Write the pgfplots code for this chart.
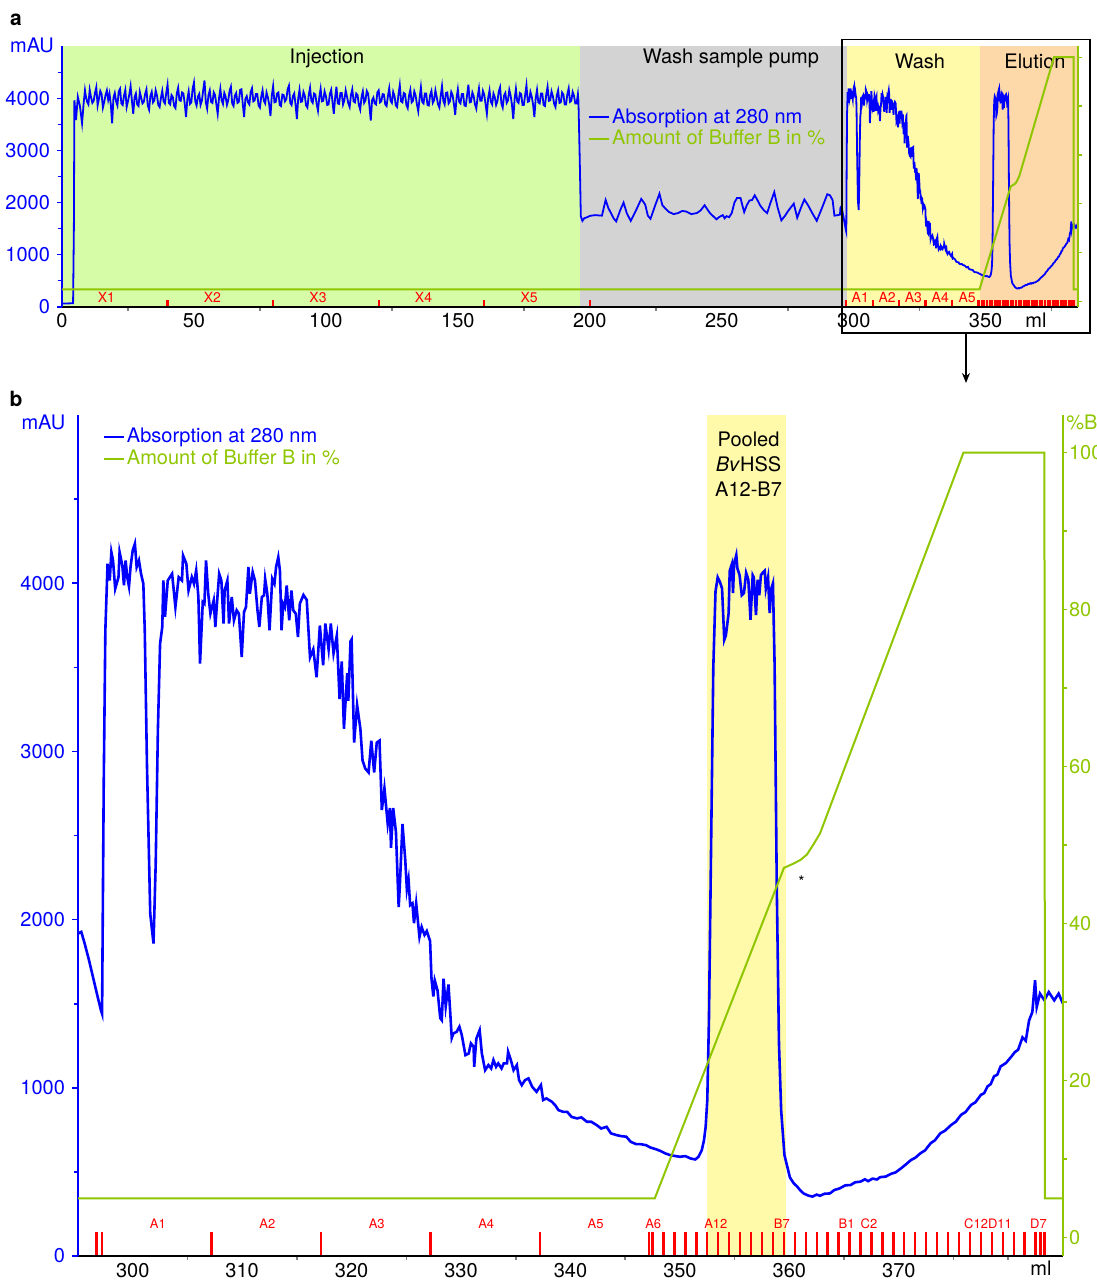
\documentclass[border=0pt]{standalone}
\usepackage{pgfplots}
\pgfplotsset{compat=1.18}
\usepackage{pgfplotstable}
\usepackage{fontspec}
\setmainfont{TeX Gyre Heros}
\usetikzlibrary{arrows.meta}
\definecolor{ablue}{RGB}{0,0,255}
\definecolor{bgreen}{RGB}{143,198,0}
\definecolor{injg}{RGB}{215,252,168}
\definecolor{wgray}{RGB}{211,211,211}
\definecolor{wyel}{RGB}{255,249,170}
\definecolor{eor}{RGB}{253,216,168}
\definecolor{fred}{RGB}{255,0,0}
\pgfkeys{/pgf/number format/.cd,1000 sep={},assume math mode=true}
\newcommand{\tf}{\fontsize{10}{12}\selectfont}

% Panel b absorption trace (ml, mAU)
\pgfplotstableread{
x y
295.0 1917
295.3 1927
295.6 1860
296.0 1760
296.4 1650
296.8 1540
297.1 1460
297.2 1440
297.35 2800
297.5 3720
297.7 4116
297.9 4016
298.05 4185
298.2 4135
298.4 3967
298.7 4036
298.8 4185
299.05 4106
299.2 3987
299.35 4135
299.5 4036
299.66 3980
299.8 4096
300.0 4195
300.2 4235
300.36 4096
300.57 4135
300.76 4056
300.97 3997
301.1 3720
301.3 2927
301.6 2036
301.73 1957
301.9 1858
302.1 2333
302.3 3126
302.5 3641
302.7 3740
302.8 4016
302.95 3800
303.2 4016
303.6 4056
303.9 3858
304.2 4036
304.5 4016
304.6 4165
304.9 4116
305.1 3957
305.4 4036
305.6 3997
305.8 4076
306.0 3918
306.15 3522
306.4 3888
306.55 3878
306.7 4135
306.9 3937
307.1 3819
307.4 3898
307.55 3740
307.74 3918
307.9 4056
308.1 4016
308.3 3760
308.4 3957
308.65 4016
308.8 3760
309.05 3918
309.25 3779
309.5 3839
309.7 3819
309.96 3561
310.17 3829
310.35 3858
310.57 4096
310.7 3937
310.96 4066
311.17 4016
311.4 3839
311.57 3740
311.8 3918
312.0 3928
312.1 4026
312.3 3937
312.5 3720
312.75 4026
312.95 3997
313.1 4096
313.3 4155
313.45 4076
313.6 3720
313.75 3878
313.9 3858
314.07 3987
314.3 3779
314.5 3957
314.67 3839
314.9 3819
315.1 3680
315.27 3878
315.6 3930
315.9 3901
316.2 3559
316.5 3607
316.8 3441
317.1 3748
317.4 3512
317.6 3760
317.9 3607
318.1 3760
318.35 3583
318.65 3689
318.9 3311
319.1 3535
319.3 3135
319.6 3465
319.7 3300
319.9 3654
320.0 3665
320.23 3052
320.5 3276
320.8 3135
321.0 2946
321.24 2899
321.55 2875
321.8 3064
322.06 2875
322.3 3052
322.55 3064
322.76 2651
323.0 2781
323.3 2569
323.5 2663
323.6 2427
323.8 2663
324.05 2522
324.3 2074
324.4 2192
324.65 2569
324.9 2357
325.05 2180
325.2 2239
325.35 2086
325.56 2097
325.7 1979
325.9 2097
326.2 1897
326.4 1956
326.66 1909
326.87 1932
327.17 1873
327.3 1649
327.47 1543
327.6 1638
327.85 1579
328.1 1414
328.24 1402
328.4 1649
328.6 1484
328.85 1614
329.0 1461
329.15 1296
329.3 1323
329.6 1333
329.85 1363
330.07 1313
330.4 1194
330.7 1204
330.9 1264
331.15 1244
331.2 1125
331.4 1293
331.7 1343
331.9 1204
332.2 1105
332.5 1135
332.75 1115
332.96 1165
333.2 1125
333.4 1145
333.7 1115
333.9 1145
334.2 1145
334.3 1214
334.55 1165
334.8 1105
335.1 1135
335.3 1046
335.55 1016
335.85 1046
336.16 1056
336.5 1006
336.9 976
337.3 1016
337.5 927
337.8 937
338.3 917
338.6 897
338.9 867
339.35 857
339.7 857
340.1 827
340.6 818
341.0 824
341.5 798
341.9 798
342.4 778
342.8 758
343.3 768
343.7 729
344.2 719
344.6 713
345.1 709
345.5 679
346.0 665
346.4 665
346.9 659
347.3 645
347.8 635
348.2 625
348.7 609
349.1 600
349.6 594
350.0 590
350.5 594
350.96 580
351.4 574
351.7 590
352.0 630
352.2 689
352.35 768
352.5 927
352.65 1400
352.85 2450
353.05 3500
353.25 3950
353.45 4035
353.65 4008
353.85 3968
354.05 3663
354.2 3690
354.45 3822
354.55 4074
354.75 4114
354.85 3942
354.95 4114
355.15 4167
355.25 4088
355.45 4048
355.65 3929
355.85 3942
356.05 4061
356.25 4021
356.45 3783
356.65 4048
356.75 4035
356.95 3810
357.1 4021
357.25 3929
357.4 4048
357.55 4061
357.75 4074
357.85 3968
358.05 4035
358.2 3822
358.35 3968
358.5 4000
358.65 3517
358.85 2191
359.05 1263
359.25 865
359.55 600
360.05 467
360.4 432
360.7 414
361.0 390
361.3 372
361.7 360
362.1 353
362.5 365
362.8 358
363.2 370
363.7 372
364.1 392
364.6 402
365.1 420
365.6 422
366.0 438
366.5 442
366.9 456
367.2 445
367.6 460
368.0 455
368.3 469
368.8 472
369.3 489
369.7 497
370.2 521
370.6 542
371.1 570
371.5 584
372.0 612
372.4 628
372.9 670
373.3 688
373.8 730
374.2 744
374.8 780
375.2 798
375.7 840
376.1 856
376.6 898
377.0 914
377.5 958
377.8 968
378.1 1008
378.4 1022
378.7 1068
379.0 1078
379.3 1127
379.8 1148
380.3 1187
380.6 1212
380.9 1226
381.3 1300
381.6 1280
381.9 1400
382.2 1450
382.45 1640
382.6 1480
382.9 1560
383.3 1521
383.7 1569
384.2 1520
384.6 1560
385.0 1500
}\bdata

% Amount of buffer B (ml, %)
\pgfplotstableread{
x y
0 5
347.7 5
359.5 47.1
360.3 47.6
361.0 48.1
361.6 48.8
362.2 50.1
362.8 51.5
375.9 100
383.3 100
383.35 5
385 5
}\pbdata

\pgfplotsset{
  chrom/.style={scale only axis, axis on top, tick align=outside,
    tick label style={font=\tf},
    xticklabel style={yshift=3pt},
    major tick length=2.5pt, minor tick length=2pt,
    major x tick style={draw=none},
    minor x tick style={gray, line width=0.8pt},
    legend cell align=left,
    legend image code/.code={\draw[##1, line width=1.2pt] (0pt,0pt) -- (10pt,0pt);},
  },
}

\begin{document}
\begin{tikzpicture}
\path[use as bounding box] (0pt,0pt) rectangle (548.5pt,641pt);

% ---------------- panel a ----------------
\begin{axis}[chrom, at={(31pt,487.5pt)}, anchor=south west, width=508pt, height=130.5pt,
  xmin=0, xmax=385, ymin=0, ymax=5000,
  axis x line*=bottom, axis y line*=left,
  x axis line style={black, line width=1.2pt},
  y axis line style={ablue, line width=1.2pt},
  xtick={0,50,...,350}, minor xtick={25,75,...,375},
  ytick={0,1000,...,4000}, minor ytick={500,1500,...,4500},
  yticklabel style={ablue}, ytick style={ablue, line width=0.6pt},
  legend style={draw=none, fill=none, at={(0.517,0.77)}, anchor=north west,
    inner sep=0pt, row sep=0pt, font=\tf, nodes={inner sep=1pt}},
]
\addplot[draw=none, fill=injg, forget plot] coordinates {(0,5000) (196.4,5000)} \closedcycle;
\addplot[draw=none, fill=wgray, forget plot] coordinates {(196.4,5000) (297.6,5000)} \closedcycle;
\addplot[draw=none, fill=wyel, forget plot] coordinates {(297.6,5000) (348,5000)} \closedcycle;
\addplot[draw=none, fill=eor, forget plot] coordinates {(348,5000) (385,5000)} \closedcycle;
\addplot[ablue, line width=0.9pt] coordinates {
(0,65)(2,68)(4.2,72)(4.5,1500)(4.7,3960)(5.3,3580)(6.0,4026)(6.8,3850)(7.6,3518)(8.2,3900)(8.7,4153)
(9,4050)(9.5,3930)(10,3880)(10.5,4160)(11,4020)(11.5,3910)(12,3950)(12.5,4100)(13,4210)(13.5,3860)
(14,3990)(14.5,4140)(15,4080)(15.5,3820)(16,3930)(16.5,4060)(17,4150)(17.5,3970)(18,4090)(18.5,3880)
(19,3520)(19.5,4010)(20,4100)(20.5,3940)(21,3860)(21.5,4130)(22,4180)(22.5,3900)(23,3870)(23.5,4050)
(24,4160)(24.5,3830)(25,3940)(25.5,4070)(26,4230)(26.5,3950)(27,3700)(27.5,4020)(28,4090)(28.5,3880)
(29,3850)(29.5,4120)(30,4010)(30.5,3900)(31,3930)(31.5,4080)(32,4170)(32.5,3860)(33,3780)(33.5,4040)
(34,4120)(34.5,3920)(35,3960)(35.5,4150)(36,4050)(36.5,3870)(37,3830)(37.5,4010)(38,4140)(38.5,3940)
(39,3900)(39.5,4100)(40,4260)(40.5,3910)(41,3880)(41.5,4060)(42,4020)(42.5,3850)(43,3810)(43.5,4090)
(44,4200)(44.5,3960)(45,3950)(45.5,4110)(46,4090)(46.5,3900)(47,3640)(47.5,3980)(48,4130)(48.5,3890)
(49,3920)(49.5,4180)(50,4300)(50.5,3940)(51,3860)(51.5,4030)(52,4080)(52.5,3870)(53,3950)(53.5,4150)
(54,4340)(54.5,3920)(55,3800)(55.5,4060)(56,4150)(56.5,3930)(57,3910)(57.5,4110)(58,4060)(58.5,3880)
(59,3700)(59.5,4000)(60,4180)(60.5,3960)(61,3890)(61.5,4100)(62,4030)(62.5,3870)(63,3960)(63.5,4140)
(64,4220)(64.5,3900)(65,3850)(65.5,4050)(66,4100)(66.5,3910)(67,3930)(67.5,4160)(68,4170)(68.5,3890)
(69,3640)(69.5,3990)(70,4040)(70.5,3920)(71,3880)(71.5,4120)(72,4190)(72.5,3940)(73,3960)(73.5,4080)
(74,4080)(74.5,3860)(75,3820)(75.5,4030)(76,4150)(76.5,3950)(77,3900)(77.5,4110)(78,4020)(78.5,3880)
(79,3660)(79.5,4050)(80,4230)(80.5,3920)(81,3930)(81.5,4090)(82,4110)(82.5,3870)(83,3850)(83.5,4070)
(84,4060)(84.5,3940)(85,3980)(85.5,4170)(86,4240)(86.5,3910)(87,3870)(87.5,4040)(88,4090)(88.5,3880)
(89,3600)(89.5,3990)(90,4160)(90.5,3930)(91,3940)(91.5,4120)(92,4050)(92.5,3860)(93,3820)(93.5,4060)
(94,4200)(94.5,3950)(95,3910)(95.5,4090)(96,4070)(96.5,3890)(97,3760)(97.5,4020)(98,4180)(98.5,3940)
(99,3950)(99.5,4130)(100,4040)(100.5,3870)(101,3880)(101.5,4080)(102,4160)(102.5,3930)(103,3700)(103.5,4010)
(104,4220)(104.5,3900)(105,3890)(105.5,4100)(106,4100)(106.5,3880)(107,3960)(107.5,4150)(108,4030)(108.5,3900)
(109,3830)(109.5,4060)(110,4170)(110.5,3940)(111,3920)(111.5,4090)(112,4060)(112.5,3870)(113,3780)(113.5,4020)
(114,4130)(114.5,3910)(115,3960)(115.5,4140)(116,4090)(116.5,3850)(117,3570)(117.5,3960)(118,4010)(118.5,3900)
(119,3880)(119.5,4110)(120,4150)(120.5,3920)(121,3940)(121.5,4080)(122,4070)(122.5,3880)(123,3850)(123.5,4040)
(124,4190)(124.5,3950)(125,3910)(125.5,4120)(126,4040)(126.5,3860)(127,3830)(127.5,4070)(128,4250)(128.5,3940)
(129,3920)(129.5,4100)(130,4080)(130.5,3870)(131,3810)(131.5,4050)(132,4160)(132.5,3920)(133,3950)(133.5,4130)
(134,4050)(134.5,3880)(135,3750)(135.5,4000)(136,4210)(136.5,3930)(137,3900)(137.5,4090)(138,4090)(138.5,3870)
(139,3860)(139.5,4060)(140,4140)(140.5,3910)(141,3960)(141.5,4150)(142,4020)(142.5,3880)(143,3820)(143.5,4040)
(144,4230)(144.5,3950)(145,3880)(145.5,4100)(146,4110)(146.5,3900)(147,3940)(147.5,4120)(148,4060)(148.5,3890)
(149,3680)(149.5,4000)(150,4170)(150.5,3930)(151,3900)(151.5,4080)(152,4080)(152.5,3860)(153,3850)(153.5,4060)
(154,4260)(154.5,3920)(155,3930)(155.5,4110)(156,4040)(156.5,3880)(157,3800)(157.5,4030)(158,4190)(158.5,3950)
(159,3950)(159.5,4140)(160,4070)(160.5,3890)(161,3700)(161.5,4010)(162,4150)(162.5,3930)(163,3880)(163.5,4090)
(164,4020)(164.5,3870)(165,3940)(165.5,4130)(166,4210)(166.5,3900)(167,3820)(167.5,4050)(168,4100)(168.5,3910)
(169,3960)(169.5,4160)(170,4050)(170.5,3880)(171,3600)(171.5,3980)(172,4180)(172.5,3940)(173,3910)(173.5,4100)
(174,4080)(174.5,3870)(175,3870)(175.5,4060)(176,4250)(176.5,3930)(177,3940)(177.5,4120)(178,4030)(178.5,3880)
(179,3640)(179.5,4000)(180,4160)(180.5,3920)(181,3900)(181.5,4090)(182,4090)(182.5,3870)(183,3850)(183.5,4070)
(184,4220)(184.5,3950)(185,3960)(185.5,4130)(186,4040)(186.5,3890)(187,3830)(187.5,4050)(188,4150)(188.5,3910)
(189,3920)(189.5,4110)(190,4070)(190.5,3880)(191,3880)(191.5,4080)(192,4190)(192.5,3930)(193,3950)(193.5,4120)
(194,4050)(194.5,3900)(195,3900)(195.5,4080)
(195.7,3950)(196.2,2800)(196.6,1740)(197.2,1650)(197.9,1700)(199,1720)(200,1745)(202,1760)(204.6,1750)
(205.3,1900)(206,2050)(207,1900)(208,1800)(209,1700)(210,1640)(211.5,1850)(212.8,2000)(214,1800)
(215.5,1650)(217.5,1850)(219.5,2070)(220.5,2000)(221,1960)(222,1750)(223,1690)(224.8,1950)(226.4,2170)
(227.5,1950)(228.4,1900)(230,1820)(231.8,1780)(233.5,1800)(235,1840)(236.5,1830)(238.5,1780)(240.6,1800)
(242,1850)(243.5,1950)(245.5,1800)(248,1680)(249.2,1730)(250.4,1760)(251.1,1700)(251.8,1740)(252.8,1720)
(253.8,1800)(254.8,2000)(255.8,2090)(257.1,2090)(257.8,1950)(258.5,1820)(259.5,1950)(260.5,2040)(261.5,2050)
(262.5,2140)(263.5,2050)(264.5,1950)(266,1850)(267.2,1800)(268.5,2000)(269.9,2200)(271.2,1900)(272.6,1660)
(274,1750)(275.3,1850)(277.3,1980)(278.6,1710)(280,1900)(281.3,2060)(282.7,1950)(284.3,1800)(286,1650)
(288,1900)(290,2160)(291,2140)(292,2050)(292.7,1750)(294,1760)(294.8,1770)(295,1917)};
\addlegendentry{\textcolor{ablue}{Absorption at 280 nm}}
\addlegendimage{bgreen, line width=1.2pt}
\addlegendentry{\textcolor{bgreen}{Amount of Buffer B in \%}}
\addplot[ablue, line width=0.9pt, forget plot] table {\bdata};
\addplot[fred, ycomb, line width=1.1pt, forget plot] coordinates {
(40,140)(80,140)(120,140)(160,140)(200,140)
(297.2,140)(307.2,140)(317.2,140)(327.2,140)(337.2,140)(347.2,140)(347.5,140)
(348.5,140)(349.5,140)(350.5,140)(351.5,140)(352.5,140)(353.5,140)(354.5,140)
(355.5,140)(356.5,140)(357.5,140)(358.5,140)(359.5,140)(360.5,140)(361.5,140)
(362.5,140)(363.5,140)(364.5,140)(365.5,140)(366.5,140)(367.5,140)(368.5,140)
(369.5,140)(370.5,140)(371.5,140)(372.5,140)(373.5,140)(374.5,140)(375.5,140)
(376.5,140)(377.5,140)(378.5,140)(379.5,140)(380.5,140)(381.5,140)(382.5,140)
(382.95,140)(383.3,140)};
\begin{scope}[every node/.style={font=\fontsize{7}{8}\selectfont, text=fred, inner sep=0pt}]
\node at (axis cs:16.8,180) {X1};
\node at (axis cs:57,180) {X2};
\node at (axis cs:97,180) {X3};
\node at (axis cs:137,180) {X4};
\node at (axis cs:177,180) {X5};
\node at (axis cs:302.5,180) {A1};
\node at (axis cs:312.7,180) {A2};
\node at (axis cs:322.6,180) {A3};
\node at (axis cs:332.8,180) {A4};
\node at (axis cs:343,180) {A5};
\end{scope}
\node[font=\tf] at (axis cs:100.4,4760) {Injection};
\node[font=\tf] at (axis cs:253.5,4760) {Wash sample pump};
\node[font=\tf] at (axis cs:325.1,4715) {Wash};
\node[font=\tf] at (axis cs:368.7,4715) {Elution};
\end{axis}

\begin{axis}[chrom, at={(31pt,487.5pt)}, anchor=south west, width=508pt, height=130.5pt,
  xmin=0, xmax=385, ymin=-2.25, ymax=104.6,
  axis x line=none, axis y line*=right,
  y axis line style={bgreen, line width=1.1pt},
  ytick={0,20,...,100}, yticklabels={},
  ytick style={bgreen, line width=0.6pt}, major tick length=2pt,
]
\addplot[bgreen, line width=1pt] table {\pbdata};
\end{axis}

% ---------------- panel b ----------------
\begin{axis}[chrom, at={(39pt,13pt)}, anchor=south west, width=492.5pt, height=420.5pt,
  xmin=295, xmax=385, ymin=0, ymax=5000,
  axis x line*=bottom, axis y line*=left,
  x axis line style={black, line width=1.2pt},
  y axis line style={ablue, line width=1.3pt},
  xtick={300,310,...,370}, minor xtick={305,315,...,375,380},
  ytick={0,1000,...,4000}, minor ytick={500,1500,...,4500},
  yticklabel style={ablue}, ytick style={ablue, line width=0.8pt},
  major tick length=3pt,
  legend style={draw=none, fill=none, at={(0.0245,0.987)}, anchor=north west,
    inner sep=0pt, row sep=0pt, font=\tf, nodes={inner sep=1pt}},
]
\addplot[draw=none, fill=wyel, forget plot] coordinates {(352.5,5000) (359.65,5000)} \closedcycle;
\addplot[ablue, line width=1.3pt] table {\bdata};
\addlegendentry{\textcolor{ablue}{Absorption at 280 nm}}
\addlegendimage{bgreen, line width=1.2pt}
\addlegendentry{\textcolor{bgreen}{Amount of Buffer B in \%}}
\addplot[fred, ycomb, line width=1.2pt, forget plot] coordinates {
(296.7,140)(297.2,140)(307.2,140)(317.2,140)(327.2,140)(337.2,140)(347.2,140)(347.5,140)
(348.5,140)(349.5,140)(350.5,140)(351.5,140)(352.5,140)(353.5,140)(354.5,140)
(355.5,140)(356.5,140)(357.5,140)(358.5,140)(359.5,140)(360.5,140)(361.5,140)
(362.5,140)(363.5,140)(364.5,140)(365.5,140)(366.5,140)(367.5,140)(368.5,140)
(369.5,140)(370.5,140)(371.5,140)(372.5,140)(373.5,140)(374.5,140)(375.5,140)
(376.5,140)(377.5,140)(378.5,140)(379.5,140)(380.5,140)(381.5,140)(382.5,140)
(382.95,140)(383.3,140)};
\begin{scope}[every node/.style={font=\fontsize{6.5}{8}\selectfont, text=fred, inner sep=0pt}]
\node at (axis cs:302.3,194) {A1};
\node at (axis cs:312.3,194) {A2};
\node at (axis cs:322.3,194) {A3};
\node at (axis cs:332.3,194) {A4};
\node at (axis cs:342.3,194) {A5};
\node at (axis cs:347.56,194) {A6};
\node at (axis cs:353.28,194) {A12};
\node at (axis cs:359.32,194) {B7};
\node at (axis cs:365.23,194) {B1};
\node at (axis cs:367.27,194) {C2};
\node at (axis cs:378.15,194) {C12D11};
\node at (axis cs:382.76,194) {D7};
\end{scope}
\node[align=center, anchor=north, font=\fontsize{10}{12.3}\selectfont, inner sep=0pt]
  at (axis cs:356.27,4900) {Pooled\\\textit{Bv}HSS\\A12-B7};
\node[font=\fontsize{8}{9}\selectfont] at (axis cs:361.1,2228) {*};
\end{axis}

\begin{axis}[chrom, at={(39pt,13pt)}, anchor=south west, width=492.5pt, height=420.5pt,
  xmin=295, xmax=385, ymin=-2.35, ymax=104.8,
  axis x line=none, axis y line*=right,
  y axis line style={bgreen, line width=1.2pt},
  ytick={0,20,...,100}, minor ytick={10,30,...,90},
  yticklabel style={bgreen, inner xsep=0.8pt},
  ytick style={bgreen, line width=0.8pt}, major tick length=2pt, minor tick length=2pt,
]
\addplot[bgreen, line width=1pt] table {\pbdata};
\end{axis}

% ---------------- annotations ----------------
\node[font=\bfseries\fontsize{10.5}{12}\selectfont] at (8pt,631pt) {a};
\node[font=\bfseries\fontsize{10.5}{12}\selectfont] at (8pt,441.5pt) {b};
\node[font=\tf, text=ablue] at (16pt,618.5pt) {mAU};
\node[font=\tf] at (518pt,481pt) {ml};
\node[font=\tf, text=ablue] at (21.7pt,430pt) {mAU};
\node[font=\tf, text=bgreen, anchor=west, inner sep=0pt] at (533pt,430pt) {\%B};
\node[font=\tf] at (520.5pt,7pt) {ml};
\draw[black, line width=0.8pt] (421pt,474.5pt) rectangle (545pt,621.3pt);
\draw[black, line width=0.8pt, -{Stealth[length=5pt,width=4pt]}] (483pt,474.5pt) -- (483pt,449.5pt);
\end{tikzpicture}
\end{document}
